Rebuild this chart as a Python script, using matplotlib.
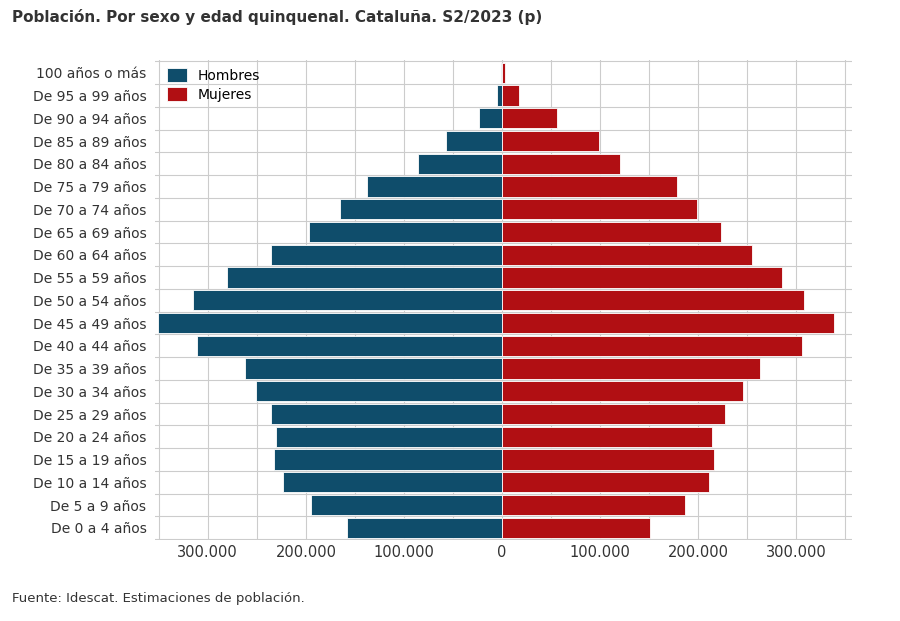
import numpy as np
import matplotlib
matplotlib.use("Agg")
import matplotlib.pyplot as plt
from matplotlib.ticker import FuncFormatter, MultipleLocator

# ---- data (thousands) ----
groups = ["De 0 a 4 años", "De 5 a 9 años", "De 10 a 14 años", "De 15 a 19 años",
          "De 20 a 24 años", "De 25 a 29 años", "De 30 a 34 años", "De 35 a 39 años",
          "De 40 a 44 años", "De 45 a 49 años", "De 50 a 54 años", "De 55 a 59 años",
          "De 60 a 64 años", "De 65 a 69 años", "De 70 a 74 años", "De 75 a 79 años",
          "De 80 a 84 años", "De 85 a 89 años", "De 90 a 94 años", "De 95 a 99 años",
          "100 años o más"]
hombres = [158, 195, 223, 233, 230, 236, 251, 262, 311, 351, 315, 280,
           236, 197, 165, 138, 86, 57, 24, 5, 1.5]
mujeres = [151, 186, 211, 216, 214, 227, 246, 263, 306, 338, 308, 285,
           255, 223, 199, 178, 120, 99, 56, 17, 3]

c_h = "#0f4d6b"
c_m = "#b10f13"

fig = plt.figure(figsize=(9, 6.21), dpi=100)
ax = fig.add_axes([0.172, 0.13, 0.775, 0.773])

y = np.arange(len(groups))
h = np.array(hombres) * 1000
m = np.array(mujeres) * 1000
ax.barh(y, -h, height=0.9, color=c_h, edgecolor="white", linewidth=0.6, label="Hombres", zorder=3)
ax.barh(y, m, height=0.9, color=c_m, edgecolor="white", linewidth=0.6, label="Mujeres", zorder=3)

ax.set_xlim(-354000, 357000)
ax.set_ylim(-0.55, len(groups) - 0.45)
ax.set_yticks(y)
ax.set_yticklabels(groups, fontsize=10, color="#333333")
ax.xaxis.set_major_locator(MultipleLocator(100000))
ax.xaxis.set_minor_locator(MultipleLocator(50000))
ax.xaxis.set_major_formatter(FuncFormatter(lambda v, p: f"{abs(int(v)):,}".replace(",", ".")))
ax.tick_params(axis="x", labelsize=10.5, colors="#333333", length=0)
ax.tick_params(axis="y", length=0, pad=6)
ax.tick_params(which="minor", length=0)

ax.grid(True, which="both", axis="x", color="#cccccc", linewidth=0.8, zorder=0)
for yy in np.arange(-0.5, len(groups), 1):
    ax.axhline(yy, color="#cccccc", linewidth=0.8, zorder=0)
for s in ax.spines.values():
    s.set_visible(False)

ax.legend(loc="upper left", bbox_to_anchor=(0.0, 1.01), frameon=False, fontsize=10,
          handlelength=1.4, handleheight=1.2, labelspacing=0.3)

fig.text(0.013, 0.965, "Población. Por sexo y edad quinquenal. Cataluña. S2/2023 (p)",
         fontsize=11, fontweight="bold", color="#333333")
fig.text(0.013, 0.03, "Fuente: Idescat. Estimaciones de población.", fontsize=9.5, color="#333333")

fig.savefig("out.png", dpi=100)
